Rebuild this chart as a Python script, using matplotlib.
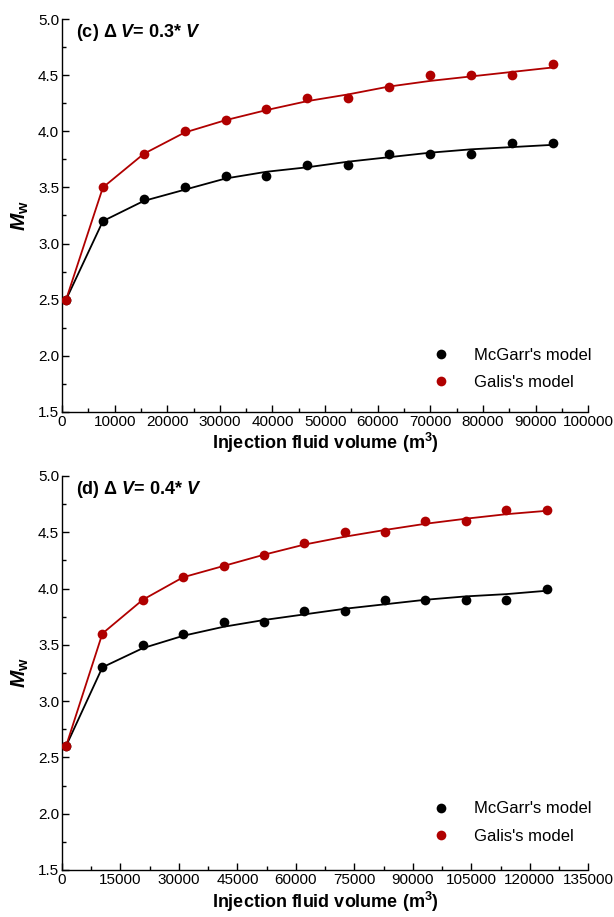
import matplotlib
matplotlib.use("Agg")
import matplotlib.pyplot as plt
from matplotlib.ticker import MultipleLocator

plt.rcParams['font.family'] = ['Liberation Sans', 'DejaVu Sans']
plt.rcParams['mathtext.fontset'] = 'custom'
plt.rcParams['mathtext.rm'] = 'Liberation Sans:bold'
plt.rcParams['mathtext.it'] = 'Liberation Sans:italic:bold'
plt.rcParams['mathtext.bf'] = 'Liberation Sans:bold'

# --- data, panel (c): dV = 0.3*V ---
vol_c = [777, 7770, 15540, 23310, 31080, 38850, 46620, 54390, 62160, 69930, 77700, 85470, 93240]
mcgarr_c = [2.5, 3.2, 3.4, 3.5, 3.6, 3.6, 3.7, 3.7, 3.8, 3.8, 3.8, 3.9, 3.9]
galis_c = [2.5, 3.5, 3.8, 4.0, 4.1, 4.2, 4.3, 4.3, 4.4, 4.5, 4.5, 4.5, 4.6]
mcgarr_c_fit = [2.5, 3.2, 3.38, 3.48, 3.58, 3.64, 3.68, 3.73, 3.77, 3.81, 3.84, 3.86, 3.88]
galis_c_fit = [2.5, 3.5, 3.8, 3.99, 4.1, 4.19, 4.27, 4.33, 4.40, 4.45, 4.49, 4.53, 4.57]

# --- data, panel (d): dV = 0.4*V ---
vol_d = [1036, 10360, 20720, 31080, 41440, 51800, 62160, 72520, 82880, 93240, 103600, 113960, 124320]
mcgarr_d = [2.6, 3.3, 3.5, 3.6, 3.7, 3.7, 3.8, 3.8, 3.9, 3.9, 3.9, 3.9, 4.0]
galis_d = [2.6, 3.6, 3.9, 4.1, 4.2, 4.3, 4.4, 4.5, 4.5, 4.6, 4.6, 4.7, 4.7]
mcgarr_d_fit = [2.6, 3.3, 3.47, 3.58, 3.66, 3.72, 3.77, 3.82, 3.86, 3.90, 3.93, 3.95, 3.98]
galis_d_fit = [2.6, 3.6, 3.9, 4.1, 4.2, 4.3, 4.39, 4.46, 4.52, 4.575, 4.62, 4.66, 4.69]

RED = '#b00000'
BLACK = '#000000'

fig = plt.figure(figsize=(6.14, 9.17), dpi=100)
ax_c = fig.add_axes([0.101, 0.551, 0.857, 0.428])
ax_d = fig.add_axes([0.101, 0.0513, 0.857, 0.4297])


def draw_panel(ax, vol, mc, ga, mc_fit, ga_fit, xmax, xstep, label, leg_y):
    ax.plot(vol, mc_fit, color=BLACK, lw=1.3, zorder=2)
    ax.plot(vol, ga_fit, color=RED, lw=1.3, zorder=2)
    ax.plot(vol, mc, 'o', color=BLACK, ms=7, mew=0, zorder=3, label="McGarr's model")
    ax.plot(vol, ga, 'o', color=RED, ms=7, mew=0, zorder=3, label="Galis's model")

    ax.set_xlim(0, xmax)
    ax.set_ylim(1.5, 5.0)
    ax.xaxis.set_major_locator(MultipleLocator(xstep))
    ax.xaxis.set_minor_locator(MultipleLocator(xstep / 2))
    ax.yaxis.set_major_locator(MultipleLocator(0.5))
    ax.yaxis.set_minor_locator(MultipleLocator(0.25))
    ax.yaxis.set_major_formatter(plt.FormatStrFormatter('%.1f'))

    for side in ['top', 'right']:
        ax.spines[side].set_visible(False)
    for side in ['left', 'bottom']:
        ax.spines[side].set_linewidth(1.0)
    ax.tick_params(which='both', direction='in', width=1.0, labelsize=11, pad=2)
    ax.tick_params(which='major', length=5)
    ax.tick_params(which='minor', length=3)

    ax.set_xlabel(r'Injection fluid volume (m$^{3}$)', fontsize=13, fontweight='bold', labelpad=2)
    ax.set_ylabel(r'$M_{\mathrm{w}}$', fontsize=15, labelpad=5)
    ax.text(0.027, 0.965, label, transform=ax.transAxes, fontsize=13,
            fontweight='bold', ha='left', va='center')

    ax.legend(loc='center left', bbox_to_anchor=(0.704, leg_y), frameon=False,
              fontsize=12, handlelength=1.0, handletextpad=1.5, labelspacing=0.75,
              borderpad=0, borderaxespad=0, numpoints=1)


draw_panel(ax_c, vol_c, mcgarr_c, galis_c, mcgarr_c_fit, galis_c_fit,
           100000, 10000, r'(c) $\Delta$ $V$= 0.3* $V$', 0.109)
draw_panel(ax_d, vol_d, mcgarr_d, galis_d, mcgarr_d_fit, galis_d_fit,
           135000, 15000, r'(d) $\Delta$ $V$= 0.4* $V$', 0.12)

fig.savefig('out.png', dpi=100)
